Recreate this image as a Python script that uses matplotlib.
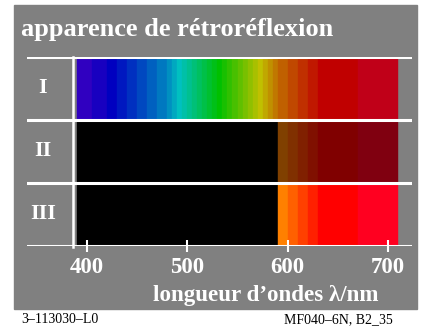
import matplotlib
matplotlib.use("Agg")
import matplotlib.pyplot as plt
from matplotlib.patches import Rectangle

# band edges (nm) and colours
edges_I = [390, 405, 420, 430, 440, 450, 460, 470, 480, 485, 490, 495, 500, 505, 510,
           515, 520, 525, 530, 535, 540, 545, 550, 555, 560, 565, 570, 575, 580, 585,
           590, 600, 610, 620, 630, 670, 710]
colors_I = ['#3000C0', '#1800C0', '#0000C0', '#0018C0', '#0030C0', '#0048C0', '#0060C0',
            '#0078C0', '#0090C0', '#00A8C0', '#00C0C0', '#00C0A8', '#00C090', '#00C078',
            '#00C060', '#00C048', '#00C030', '#00C018', '#00C000', '#18C000', '#30C000',
            '#48C000', '#60C000', '#78C000', '#90C000', '#A8C000', '#C0C000', '#C0A800',
            '#C09000', '#C07800', '#C06000', '#C04800', '#C03000', '#C01800', '#C00000',
            '#C00018']
edges_red = [390, 590, 600, 610, 620, 630, 670, 710]
colors_II = ['#000000', '#804000', '#803000', '#802000', '#801000', '#800000', '#800010']
colors_III = ['#000000', '#FF8000', '#FF6000', '#FF4000', '#FF2000', '#FF0000', '#FF0020']
row_labels = ['I', 'II', 'III']
xticks = [400, 500, 600, 700]

W, H = 424, 331
fig = plt.figure(figsize=(W / 100, H / 100), dpi=100, facecolor='white')
fig.patches.append(Rectangle((14 / W, 1 - 309 / H), 403 / W, 304 / H,
                             transform=fig.transFigure, color='#808080', zorder=-5))

ax = fig.add_axes([27 / W, 1 - 245.5 / H, 385 / W, 189 / H])
ax.set_zorder(2)
ax.patch.set_alpha(0)

rows = [(2, edges_I, colors_I), (1, edges_red, colors_II), (0, edges_red, colors_III)]
for y0, edges, cols in rows:
    for i, c in enumerate(cols):
        ax.barh(y0, edges[i + 1] - edges[i], left=edges[i], height=1, align='edge',
                color=c, edgecolor=c, linewidth=0.3)

for y in [0, 1, 2, 3]:
    ax.axhline(y, color='white', lw=2.2, zorder=3)
ax.plot([386, 386], [-0.03, 3], color='white', lw=1.8, zorder=3, clip_on=False)

ax.set_xlim(340.2, 723.9)
ax.set_ylim(0, 3)
for s in ax.spines.values():
    s.set_visible(False)
ax.set_yticks([])
ax.set_xticks(xticks)
ax.tick_params(axis='x', colors='white', direction='inout', length=8, width=1.5, pad=4.5)
for lab in ax.get_xticklabels():
    lab.set_fontfamily('Liberation Serif')
    lab.set_fontweight('bold')
    lab.set_fontsize(16.5)

for i, t in enumerate(row_labels):
    ax.text(356, 2.5 - i, t, color='white', fontsize=16, fontweight='bold',
            family='Liberation Serif', ha='center', va='center')

fig.text(21 / W, 1 - 36 / H, 'apparence de rétroréflexion', color='white', fontsize=19,
         fontweight='bold', family='Liberation Serif', ha='left', va='baseline')
fig.text(266 / W, 1 - 295 / H, 'longueur d\u2019ondes \u03bb/nm', color='white', fontsize=16.6,
         fontweight='bold', family=['Liberation Serif', 'DejaVu Serif'], ha='center', va='center')
fig.text(21 / W, 1 - 323 / H, '3\u2013113030\u2013L0', color='black', fontsize=10,
         family='Liberation Serif', ha='left', va='baseline')
fig.text(393 / W, 1 - 323 / H, 'MF040\u20136N, B2_35', color='black', fontsize=10,
         family='Liberation Serif', ha='right', va='baseline')

fig.savefig('out.png', dpi=100, facecolor='white')
